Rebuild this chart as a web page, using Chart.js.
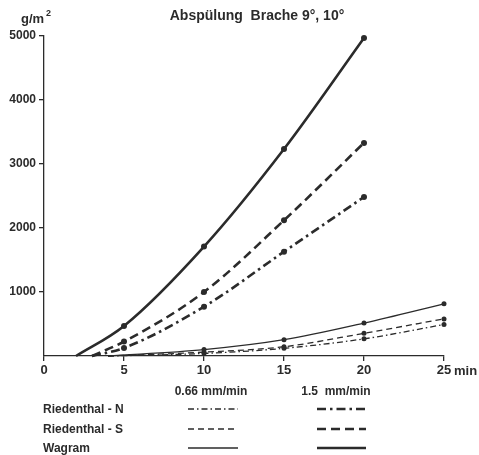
<!DOCTYPE html>
<html>
<head>
<meta charset="utf-8">
<script src="https://cdn.jsdelivr.net/npm/chart.js@4.4.1/dist/chart.umd.min.js"></script>
<style>
  html, body { margin: 0; padding: 0; background: #fff; }
  #wrap { width: 479px; height: 455px; position: relative; }
</style>
</head>
<body>
<div id="wrap"><canvas id="chart"></canvas></div>
<script>
// Abspülung (g/m2) nach Minuten, Brache 9°, 10°
const xWagram15 = [2, 5, 10, 15, 20];
const wagram15 = [0, 470, 1710, 3235, 4970];
const xRied15 = [3, 5, 10, 15, 20];
const riedS15 = [0, 225, 1000, 2120, 3330];
const riedN15 = [0, 125, 770, 1630, 2485];
const xLow = [4, 10, 15, 20, 25];
const wagram066 = [0, 100, 255, 515, 815];
const riedS066 = [0, 60, 145, 355, 580];
const riedN066 = [0, 40, 120, 268, 492];

const xTicks = [0, 5, 10, 15, 20, 25];
const yTicks = [1000, 2000, 3000, 4000, 5000];

const ink = '#2b2b2b';
const font = 'Liberation Sans, Arial, sans-serif';

// Linienstile
const thick = 2.6, thin = 1.3;
const dashDotThick = [9, 4, 2.5, 4];
const dashThick = [9, 5];
const dashDotThin = [6, 3, 1.5, 3];
const dashThin = [6, 4];

const pts = (xs, ys) => xs.map((x, i) => ({ x: x, y: ys[i] }));

function series(label, xs, ys, width, dash, r) {
  return {
    label: label,
    data: pts(xs, ys),
    borderColor: ink,
    backgroundColor: ink,
    borderWidth: width,
    borderDash: dash,
    cubicInterpolationMode: 'monotone',
    pointRadius: ctx => (ctx.raw && ctx.raw.y === 0 ? 0 : r),
    pointBorderWidth: 0,
    clip: false
  };
}

// Beschriftung und Legende als Text
const textPlugin = {
  id: 'texts',
  afterDraw(chart) {
    const c = chart.ctx;
    c.save();
    c.fillStyle = ink;
    c.textBaseline = 'middle';
    c.font = 'bold 14px ' + font;
    c.textAlign = 'center';
    c.fillText('Abspülung  Brache 9°, 10°', 257, 16);
    c.font = 'bold 13px ' + font;
    c.textAlign = 'left';
    c.fillText('g/m', 21, 19);
    c.font = 'bold 9px ' + font;
    c.fillText('2', 46, 14);
    c.font = 'bold 13px ' + font;
    c.fillText('min', 454, 371);

    c.font = 'bold 12px ' + font;
    c.textAlign = 'center';
    c.fillText('0.66 mm/min', 211, 392);
    c.fillText('1.5  mm/min', 336, 392);
    c.textAlign = 'left';
    const rows = [
      ['Riedenthal - N', dashDotThin, dashDotThick, 410],
      ['Riedenthal - S', dashThin, dashThick, 430],
      ['Wagram', [], [], 449]
    ];
    c.strokeStyle = ink;
    rows.forEach(r => {
      c.fillText(r[0], 43, r[3]);
      c.lineWidth = thin;
      c.setLineDash(r[1]);
      c.beginPath(); c.moveTo(188, r[3] - 1); c.lineTo(238, r[3] - 1); c.stroke();
      c.lineWidth = thick;
      c.setLineDash(r[2]);
      c.beginPath(); c.moveTo(317, r[3] - 1); c.lineTo(366, r[3] - 1); c.stroke();
    });
    c.restore();
  }
};

new Chart(document.getElementById('chart'), {
  type: 'line',
  data: {
    datasets: [
      series('Wagram 1.5', xWagram15, wagram15, thick, [], 3),
      series('Riedenthal-S 1.5', xRied15, riedS15, thick, dashThick, 3),
      series('Riedenthal-N 1.5', xRied15, riedN15, thick, dashDotThick, 3),
      series('Wagram 0.66', xLow, wagram066, thin, [], 2.5),
      series('Riedenthal-S 0.66', xLow, riedS066, thin, dashThin, 2.5),
      series('Riedenthal-N 0.66', xLow, riedN066, thin, dashDotThin, 2.5)
    ]
  },
  options: {
    responsive: true,
    maintainAspectRatio: false,
    animation: false,
    layout: { padding: { top: 36, right: 35, bottom: 75, left: 0 } },
    plugins: { legend: { display: false }, tooltip: { enabled: false } },
    scales: {
      x: {
        type: 'linear',
        min: 0,
        max: 25,
        afterFit: s => { s.height = 24; },
        afterBuildTicks: s => { s.ticks = xTicks.map(v => ({ value: v })); },
        grid: { drawOnChartArea: false, drawTicks: true, tickLength: 5, color: ink, lineWidth: 1.3 },
        border: { display: true, color: ink, width: 1.3 },
        ticks: { color: ink, padding: 2, font: { family: font, size: 13, weight: 'bold' } }
      },
      y: {
        min: 0,
        max: 5000,
        afterFit: s => { s.width = 44; },
        afterBuildTicks: s => { s.ticks = yTicks.map(v => ({ value: v })); },
        grid: { drawOnChartArea: false, drawTicks: true, tickLength: 5, color: ink, lineWidth: 1.3 },
        border: { display: true, color: ink, width: 1.3 },
        ticks: {
          color: ink, padding: 3,
          font: { family: font, size: 12, weight: 'bold' },
          callback: v => String(v)
        }
      }
    }
  },
  plugins: [textPlugin]
});
</script>
</body>
</html>
